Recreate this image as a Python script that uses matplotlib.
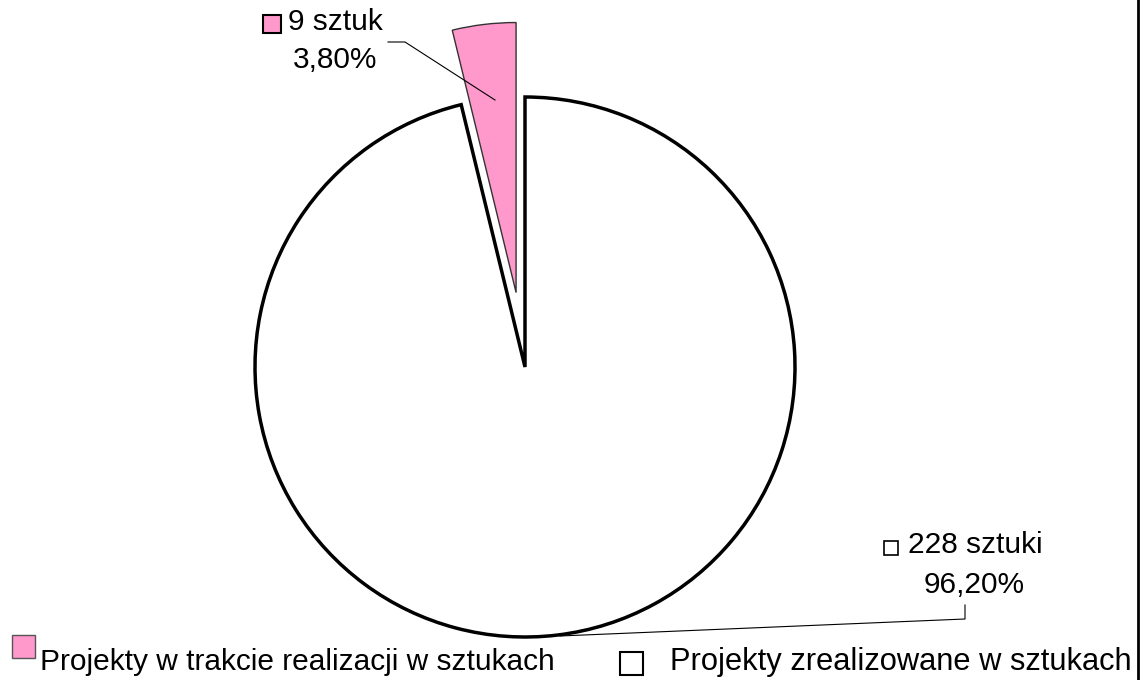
import matplotlib
matplotlib.use("Agg")
import matplotlib.pyplot as plt
from matplotlib.patches import Rectangle

plt.rcParams['font.family'] = ['Liberation Sans', 'DejaVu Sans']

# data
categories = ['Projekty w trakcie realizacji w sztukach', 'Projekty zrealizowane w sztukach']
counts = [9, 228]
count_labels = ['9 sztuk', '228 sztuki']
pct_labels = ['3,80%', '96,20%']
colors = ['#FF99CC', '#FFFFFF']

W, H = 1144, 680
fig = plt.figure(figsize=(W / 100, H / 100), dpi=100)
ax = fig.add_axes([0, 0, 1, 1])

# explode is an absolute offset here (radius is in pixels)
wedges, _ = ax.pie(counts, colors=colors, startangle=90, counterclock=True,
                   explode=[75, 0], radius=270, center=(525, 313),
                   frame=True)
wedges[0].set_edgecolor('#333333')
wedges[0].set_linewidth(1.0)
wedges[1].set_edgecolor('black')
wedges[1].set_linewidth(2.5)

ax.set_xlim(0, W)
ax.set_ylim(0, H)
ax.set_aspect('equal')
ax.axis('off')

fs = 21.5

# label for the small slice
ax.add_patch(Rectangle((263, 647), 18, 18, facecolor=colors[0], edgecolor='black', lw=1.5))
ax.text(288, 658, count_labels[0], fontsize=fs, ha='left', va='center')
ax.text(335, 620, pct_labels[0], fontsize=fs, ha='center', va='center')
ax.plot([388, 405, 495], [638, 638, 580], color='black', lw=0.8)

# label for the big slice
ax.add_patch(Rectangle((884, 125), 14, 14, facecolor=colors[1], edgecolor='black', lw=1.2))
ax.text(908, 135, count_labels[1], fontsize=fs, ha='left', va='center')
ax.text(974, 95, pct_labels[1], fontsize=fs, ha='center', va='center')
ax.plot([560, 965, 965], [44, 61, 75], color='black', lw=0.8)

# right border of chart area
ax.plot([1138, 1138], [0, H], color='black', lw=2)

# legend along the bottom
ax.add_patch(Rectangle((12, 22), 23, 23, facecolor=colors[0], edgecolor='#555555', lw=1.0))
ax.text(40, 18, categories[0], fontsize=fs, ha='left', va='center')
ax.add_patch(Rectangle((620, 5), 23, 23, facecolor=colors[1], edgecolor='black', lw=1.5))
ax.text(670, 18, categories[1], fontsize=22.2, ha='left', va='center')

fig.savefig('out.png', dpi=100)
